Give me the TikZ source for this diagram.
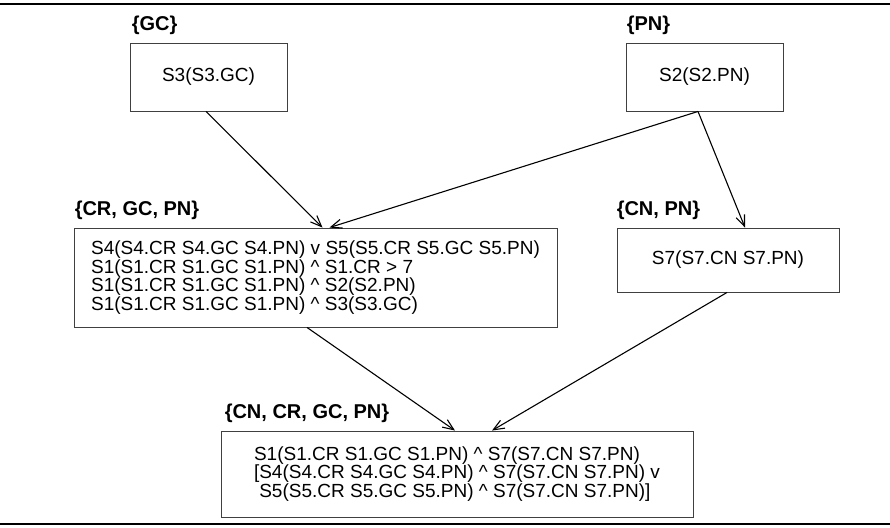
\documentclass[tikz,border=0pt]{standalone}
\usepackage{fontspec}
\setmainfont{Liberation Sans}
\usetikzlibrary{arrows.meta}
\begin{document}
\begin{tikzpicture}[x=1pt,y=-1pt]
        \tikzstyle{schemaBox}=[draw=black!75,line width=0.9pt,rectangle,inner sep=0pt,font=\fontsize{19}{16.5}\selectfont]
        \tikzstyle{attrLabel}=[anchor=south west,inner sep=0pt,font=\fontsize{20}{20}\selectfont\bfseries]
        \tikzstyle{dataFlow}=[-{Straight Barb[length=11pt,width=9pt]}, line width=1.1pt]
    \useasboundingbox (0,0) rectangle (890,527);
    \draw[line width=2.5pt] (0,4) -- (890,4);
    \draw[line width=2.5pt] (0,524) -- (890,524);

    \node[schemaBox,minimum width=157pt,minimum height=68pt] (s3) at (208.5,77) {S3(S3.GC)};
    \node[schemaBox,minimum width=157pt,minimum height=68pt] (s2) at (704.5,77) {S2(S2.PN)};
    \node[schemaBox,minimum width=483pt,minimum height=99pt,align=left] (s1) at (315.5,277.5) {S4(S4.CR S4.GC S4.PN) v S5(S5.CR S5.GC S5.PN)\\S1(S1.CR S1.GC S1.PN) \^{} S1.CR > 7\\S1(S1.CR S1.GC S1.PN) \^{} S2(S2.PN)\\S1(S1.CR S1.GC S1.PN) \^{} S3(S3.GC)};
    \node[schemaBox,minimum width=222pt,minimum height=64pt] (s7) at (728,260) {S7(S7.CN S7.PN)};
    \node[schemaBox,minimum width=472pt,minimum height=86pt,align=left] (res) at (457,474) {S1(S1.CR S1.GC S1.PN) \^{} S7(S7.CN S7.PN)\\{[}S4(S4.CR S4.GC S4.PN) \^{} S7(S7.CN S7.PN) v\\\ S5(S5.CR S5.GC S5.PN) \^{} S7(S7.CN S7.PN)]};

    \node[attrLabel] (l3) at ([shift={(2,-8)}]s3.north west) {\{GC\}};
    \node[attrLabel] (l2) at ([shift={(1,-8)}]s2.north west) {\{PN\}};
    \node[attrLabel] (l1) at ([shift={(1,-8)}]s1.north west) {\{CR, GC, PN\}};
    \node[attrLabel] (l7) at ([shift={(0,-8)}]s7.north west) {\{CN, PN\}};
    \node[attrLabel] (lr) at ([shift={(4,-8)}]res.north west) {\{CN, CR, GC, PN\}};

    \draw[dataFlow] ([xshift=-2.5pt]s3.south) -- ([xshift=7pt]s1.north);
    \draw[dataFlow] ([xshift=-6.5pt]s2.south) -- ([xshift=14pt]s1.north);
    \draw[dataFlow] ([xshift=-6.5pt]s2.south) -- ([xshift=17pt]s7.north);
    \draw[dataFlow] ([xshift=-8.5pt]s1.south) -- ([xshift=-2pt]res.north);
    \draw[dataFlow] ([xshift=-1pt]s7.south) -- ([xshift=35pt]res.north);
\end{tikzpicture}
\end{document}
